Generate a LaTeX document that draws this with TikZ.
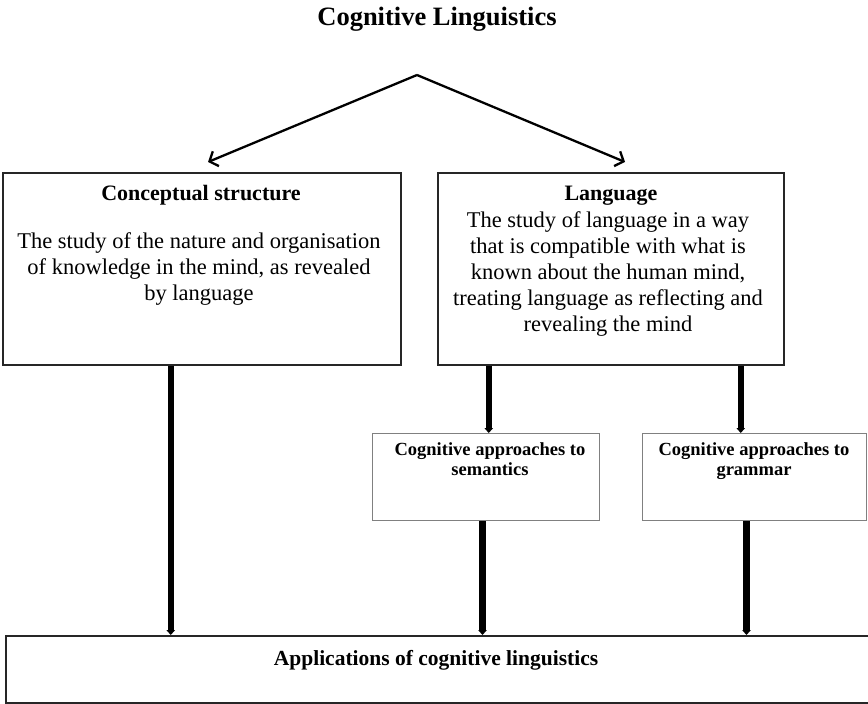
\documentclass[tikz,border=0pt]{standalone}
\usepackage{fontspec}
\setmainfont{Liberation Serif}
\usetikzlibrary{arrows.meta}
\begin{document}
\begin{tikzpicture}[x=1pt,y=-1pt,
  bigbox/.style={draw=black!85, line width=1.5pt, anchor=north west, inner sep=0pt},
  smallbox/.style={draw=black!50, line width=1pt, anchor=north west, inner sep=0pt},
  fatarrow/.style={line width=6.5pt, -{Triangle[length=5pt,width=8.5pt]}},
  thinarrow/.style={line width=2.3pt, -{Straight Barb[length=7pt,width=16pt]}},
  headtxt/.style={font=\bfseries\fontsize{22}{26}\selectfont, anchor=base, inner sep=0pt},
  bodytxt/.style={font=\fontsize{22.5}{26}\selectfont, anchor=base, align=center, inner sep=0pt},
  smalltxt/.style={font=\bfseries\fontsize{18.5}{20}\selectfont, anchor=base, align=center, inner sep=0pt}
]
\useasboundingbox (0,0) rectangle (868,704);

% boxes
\node[bigbox, minimum width=398pt, minimum height=192pt] (cs) at (2,172) {};
\node[bigbox, minimum width=346pt, minimum height=192pt] (lang) at (437,172) {};
\node[smallbox, minimum width=227pt, minimum height=87pt] (sem) at (372,433) {};
\node[smallbox, minimum width=224pt, minimum height=87pt] (gram) at (642,433) {};
\node[bigbox, minimum width=868pt, minimum height=67pt] (apps) at (5,635) {};

% texts
\node[font=\bfseries\fontsize{26.5}{30}\selectfont, anchor=base, inner sep=0pt] (title) at (437,25) {Cognitive Linguistics};
\node[headtxt] (cshead) at (201,200) {Conceptual structure};
\node[bodytxt] (csbody) at (199,300) {The study of the nature and organisation\\of knowledge in the mind, as revealed\\by language};
\node[headtxt] (langhead) at (611,200) {Language};
\node[bodytxt] (langbody) at (608,331) {The study of language in a way\\that is compatible with what is\\known about the human mind,\\treating language as reflecting and\\revealing the mind};
\node[smalltxt] (semtxt) at (490,475) {Cognitive approaches to\\semantics};
\node[smalltxt] (gramtxt) at (754,475) {Cognitive approaches to\\grammar};
\node[font=\bfseries\fontsize{21.5}{24}\selectfont, anchor=base, inner sep=0pt] (appstxt) at (436,665) {Applications of cognitive linguistics};

% connectors
\coordinate (apex) at (417,75);
\coordinate (tipL) at (208,162);
\coordinate (tipR) at (625,162);
\draw[thinarrow] (apex) -- (tipL);
\draw[thinarrow] (apex) -- (tipR);

\draw[fatarrow] ([xshift=-31pt]cs.south) -- ([xshift=-31pt]cs.south |- apps.north);
\draw[fatarrow] ([xshift=-122pt]lang.south) -- ([xshift=-122pt]lang.south |- sem.north);
\draw[fatarrow] ([xshift=130pt]lang.south) -- ([xshift=130pt]lang.south |- gram.north);
\draw[fatarrow] ([xshift=-3.5pt]sem.south) -- ([xshift=-3.5pt]sem.south |- apps.north);
\draw[fatarrow] ([xshift=-8pt]gram.south) -- ([xshift=-8pt]gram.south |- apps.north);
\end{tikzpicture}
\end{document}
